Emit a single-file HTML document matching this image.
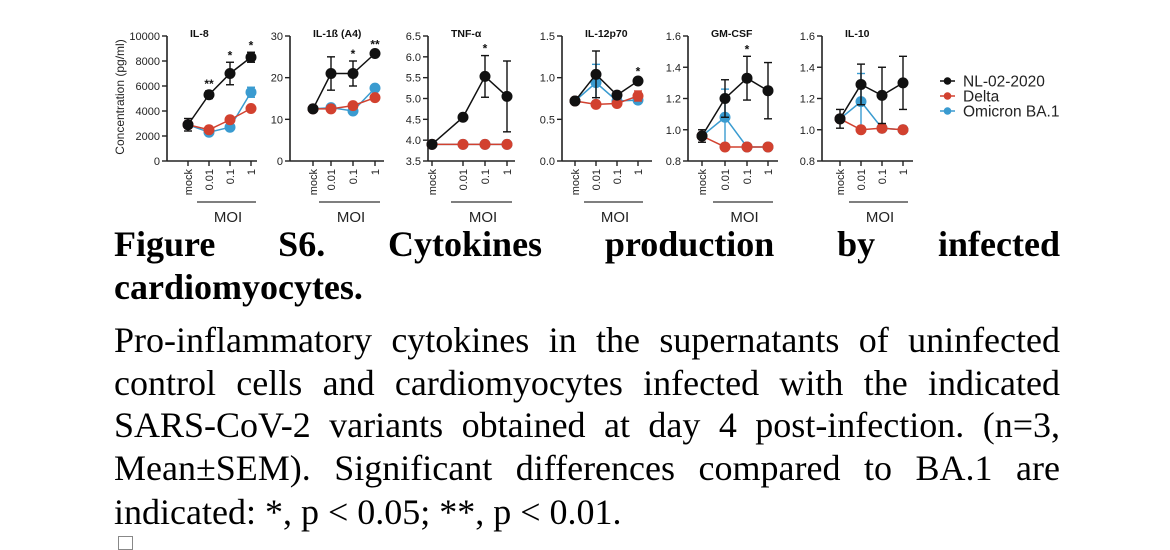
<!DOCTYPE html>
<html><head><meta charset="utf-8"><style>
body{margin:0;width:1170px;height:544px;background:#fff;overflow:hidden;position:relative;font-family:"Liberation Serif",serif}
svg{position:absolute;left:0;top:0}
.ln{position:absolute;left:114px;width:946px;text-align:justify;text-align-last:justify;font-size:36px;line-height:36px;color:#000;white-space:nowrap}
.l{text-align-last:left}
</style></head><body>
<svg id="chart" width="1170" height="230" font-family="Liberation Sans, sans-serif"></svg>
<div>
<div class="ln" style="top:226px;font-weight:bold;">Figure S6. Cytokines production by infected</div>
<div class="ln l" style="top:269px;font-weight:bold;">cardiomyocytes.</div>
</div>
<div>
<div class="ln" style="top:322px;">Pro-inflammatory cytokines in the supernatants of uninfected</div>
<div class="ln" style="top:365px;">control cells and cardiomyocytes infected with the indicated</div>
<div class="ln" style="top:407px;">SARS-CoV-2 variants obtained at day 4 post-infection. (n=3,</div>
<div class="ln" style="top:450px;">Mean±SEM). Significant differences compared to BA.1 are</div>
<div class="ln l" style="top:494px;">indicated: *, p &lt; 0.05; **, p &lt; 0.01.</div>
</div>
<div style="position:absolute;left:118px;top:536px;width:13px;height:12px;border:1px solid #888"></div>
<script>
const titles=["IL-8","IL-1ß (A4)","TNF-α","IL-12p70","GM-CSF","IL-10"];
const categories=["mock","0.01","0.1","1"];
const yMin=[0,0,3.5,0,0.8,0.8];
const yMax=[10000,30,6.5,1.5,1.6,1.6];
const yStep=[2000,10,0.5,0.5,0.2,0.2];
const yDec=[0,0,1,1,1,1];
const nlVals=[[2900,5300,7000,8300],[12.5,21,21,25.8],[3.9,4.55,5.53,5.05],[0.72,1.04,0.79,0.96],[0.96,1.2,1.33,1.25],[1.07,1.29,1.22,1.30]];
const nlErr=[[500,300,900,400],[0,4,3,0.5],[0,0,0.5,0.85],[0,0.28,0,0.03],[0.04,0.12,0.14,0.18],[0.06,0.13,0.18,0.17]];
const deltaVals=[[2900,2500,3300,4200],[12.5,12.5,13.3,15.2],[3.9,3.9,3.9,3.9],[0.72,0.68,0.69,0.78],[0.96,0.89,0.89,0.89],[1.07,1.0,1.01,1.0]];
const deltaErr=[[0,0,0,0],[0,0,0,0],[0,0,0,0],[0,0,0,0.06],[0,0,0,0],[0,0,0,0]];
const omiVals=[[2900,2300,2700,5500],[12.5,12.8,12,17.5],[3.9,3.9,3.9,3.9],[0.72,0.94,0.72,0.73],[0.96,1.08,0.89,0.89],[1.07,1.18,1.01,1.0]];
const omiErr=[[0,0,0,400],[0,0,0,0],[0,0,0,0],[0,0.22,0,0],[0,0.18,0,0],[0,0.18,0,0]];
const stars=[["","**","*","*"],["","","*","**"],["","","*",""],["","","","*"],["","","*",""],["","","",""]];
const legendNames=["NL-02-2020","Delta","Omicron BA.1"];
const colors=["#111","#d2412f","#3a9bd0"];
const axisX=[167,290,428,562,688,822];
const axisEnd=[257,384,515,652,778,913];
const pts=[[188,209,230,251],[313,331,353,375],[432,463,485,507],[575,596,617,638],[702,725,747,768],[840,861,882,903]];
const Y0=161,Y1=36;
const svg=document.getElementById('chart');
const NS="http://www.w3.org/2000/svg";
function mk(t,a,p){const e=document.createElementNS(NS,t);for(const k in a)e.setAttribute(k,a[k]);(p||svg).appendChild(e);return e;}
function txt(s,a,p){const e=mk('text',a,p);e.textContent=s;return e;}
const yt=txt("Concentration (pg/ml)",{x:0,y:0,transform:"translate(124,97) rotate(-90)","text-anchor":"middle","font-size":"12","fill":"#222"});


for(let p=0;p<6;p++){
  const g=mk('g',{});
  
  
  const sy=v=>Y0-(v-yMin[p])/(yMax[p]-yMin[p])*(Y0-Y1);
  const ax=axisX[p];
  mk('line',{x1:ax,y1:Y1,x2:ax,y2:Y0,stroke:"#222","stroke-width":1.6},g);
  mk('line',{x1:ax,y1:Y0,x2:axisEnd[p],y2:Y0,stroke:"#222","stroke-width":1.6},g);
  for(let v=yMin[p];v<=yMax[p]+1e-9;v+=yStep[p]){
    const y=sy(v);
    mk('line',{x1:ax-5,y1:y,x2:ax,y2:y,stroke:"#222","stroke-width":1.4},g);
    txt(v.toFixed(yDec[p]),{x:ax-7,y:y+4,"text-anchor":"end","font-size":"11",fill:"#222"},g);
  }
  const t=txt(titles[p],{x:ax+23,y:37,"font-size":"10.5","font-weight":"bold",fill:"#111"},g);
  
  
  categories.forEach((c,i)=>{
    const x=pts[p][i];
    mk('line',{x1:x,y1:Y0,x2:x,y2:Y0+5,stroke:"#222","stroke-width":1.4},g);
    txt(c,{x:0,y:0,transform:`translate(${x+4},${Y0+8}) rotate(-90)`,"text-anchor":"end","font-size":"11",fill:"#222"},g);
  });
  mk('line',{x1:pts[p][1]-12,y1:202,x2:pts[p][3]+5,y2:202,stroke:"#333","stroke-width":1.3},g);
  txt("MOI",{x:(pts[p][1]+pts[p][3])/2-2,y:222,"text-anchor":"middle","font-size":"15",fill:"#222"},g);
  const series=[[omiVals,omiErr,2],[deltaVals,deltaErr,1],[nlVals,nlErr,0]];
  series.forEach(([vals,errs,ci])=>{
    const col=colors[ci];
    const sg=mk('g',{},g);
    
    
    const d=vals[p].map((v,i)=>(i?'L':'M')+pts[p][i]+','+sy(v)).join(' ');
    mk('path',{d:d,fill:"none",stroke:col,"stroke-width":1.5},sg);
    vals[p].forEach((v,i)=>{
      const e=errs[p][i],x=pts[p][i];
      if(e>0){
        mk('line',{x1:x,y1:sy(v-e),x2:x,y2:sy(v+e),stroke:col,"stroke-width":1.4},sg);
        mk('line',{x1:x-4,y1:sy(v+e),x2:x+4,y2:sy(v+e),stroke:col,"stroke-width":1.4},sg);
        mk('line',{x1:x-4,y1:sy(v-e),x2:x+4,y2:sy(v-e),stroke:col,"stroke-width":1.4},sg);
      }
      const c=mk('circle',{cx:x,cy:sy(v),r:5.5,fill:col},sg);
      
      
    });
  });
  stars[p].forEach((s,i)=>{
    if(!s)return;
    const v=nlVals[p][i]+nlErr[p][i];
    txt(s,{x:pts[p][i],y:sy(v)-3,"text-anchor":"middle","font-size":"12","font-weight":"bold",fill:"#111"},g);
  });
}
const lg=mk('g',{});


legendNames.forEach((n,i)=>{
  const y=81+i*15;
  const eg=mk('g',{},lg);
  
  
  mk('line',{x1:940,y1:y,x2:955,y2:y,stroke:colors[i],"stroke-width":1.5},eg);
  mk('circle',{cx:947.5,cy:y,r:3.8,fill:colors[i]},eg);
  txt(n,{x:963,y:y+5.5,"font-size":"15.5",fill:"#222"},eg);
});
</script>
</body></html>
